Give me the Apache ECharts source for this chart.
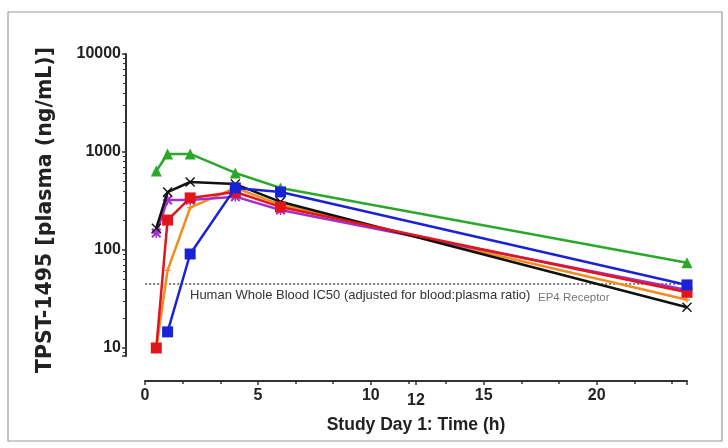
<!DOCTYPE html>
<html>
<head>
<meta charset="utf-8">
<script src="https://cdn.jsdelivr.net/npm/echarts@6/dist/echarts.min.js"></script>
<style>
html,body{margin:0;padding:0;background:#fff;}
#chart{width:728px;height:448px;}
</style>
</head>
<body>
<div id="chart"></div>
<script>
// Time points (h)
const times = [0.5, 1, 2, 4, 6, 24];
// Series values (ng/mL)
const greenVals  = [640, 955, 955, 611, 430, 74];
const blackVals  = [167, 390, 494, 470, 310, 26];
const purpleVals = [149, 324, 324, 350, 256, 39];
const orangeVals = [10, 62, 270, 430, 290, 31];
const redVals    = [10, 202, 340, 390, 275, 37];
const blueVals   = [null, 14.6, 91, 430, 391, 44];
// Reference threshold (Human Whole Blood IC50)
const ic50 = 45;
const ic50Span = [-0.7, 24.1];
// Axis tick labels
const xLabels = [0, 5, 10, 15, 20];
const xExtraLabel = 12;
const yLabels = [10, 100, 1000, 10000];

const pts = v => times.map((t, i) => [t, v[i]]).filter(p => p[1] != null);

const X_PATH = 'path://M0,1L1,0L5,4L9,0L10,1L6,5L10,9L9,10L5,6L1,10L0,9L4,5Z';
const STAR_PATH = 'path://M0,1.5L1.5,0L5,3.5L8.5,0L10,1.5L6.5,5L10,8.5L8.5,10L5,6.5L1.5,10L0,8.5L3.5,5Z M4.3,0H5.7V10H4.3Z M0,4.3H10V5.7H0Z';
const PLUS_PATH = 'path://M4,0H6V4H10V6H6V10H4V6H0V4H4Z';

function mk(name, data, color, symbol, size, z) {
  return {
    name, type: 'line', data: pts(data), z: z,
    lineStyle: {color, width: 2.5},
    itemStyle: {color},
    symbol, symbolSize: size, showSymbol: true,
    clip: false, animation: false
  };
}

const chart = echarts.init(document.getElementById('chart'), null, {renderer: 'canvas'});
const axisColor = '#333';
chart.setOption({
  animation: false,
  backgroundColor: '#fff',
  grid: {left: 145, right: 41, top: 54, bottom: 92, containLabel: false},
  xAxis: [{
    type: 'value', min: 0, max: 24, interval: 5, offset: 25,
    axisLine: {show: true, onZero: false, lineStyle: {color: axisColor, width: 2}},
    axisTick: {show: true, length: 4, lineStyle: {color: axisColor, width: 1.5}},
    minorTick: {show: true, splitNumber: 3, length: 3, lineStyle: {color: axisColor, width: 1.5}},
    splitLine: {show: false},
    axisLabel: {
      margin: 7, color: '#222', fontFamily: 'Liberation Sans', fontWeight: 'bold', fontSize: 16,
      showMaxLabel: false,
      formatter: v => (xLabels.indexOf(v) >= 0 ? String(v) : '')
    },
    name: 'Study Day 1: Time (h)', nameLocation: 'middle', nameGap: 35,
    nameTextStyle: {color: '#222', fontFamily: 'Liberation Sans', fontWeight: 'bold', fontSize: 17.5}
  }, {
    type: 'value', min: 0, max: 24, interval: xExtraLabel, offset: 25, position: 'bottom',
    axisLine: {show: false, onZero: false},
    axisTick: {show: true, length: 4, lineStyle: {color: axisColor, width: 1.5}},
    splitLine: {show: false},
    axisLabel: {
      margin: 12, color: '#222', fontFamily: 'Liberation Sans', fontWeight: 'bold', fontSize: 16,
      showMinLabel: false, showMaxLabel: false,
      formatter: v => (v === xExtraLabel ? String(v) : '')
    }
  }],
  yAxis: {
    type: 'log', logBase: 10, min: 8.28, max: 10000, offset: 19,
    axisLine: {show: true, onZero: false, lineStyle: {color: axisColor, width: 2}},
    axisTick: {show: true, length: 4, lineStyle: {color: axisColor, width: 1.5}},
    minorTick: {show: true, splitNumber: 9, length: 3, lineStyle: {color: axisColor, width: 1}},
    splitLine: {show: false},
    axisLabel: {
      margin: 5, color: '#222', fontFamily: 'Liberation Sans', fontWeight: 'bold', fontSize: 16,
      formatter: v => (yLabels.some(l => Math.abs(l - v) < 1e-6 * l) ? String(Math.round(v)) : '')
    },
    name: 'TPST-1495 [plasma (ng/mL)]', nameLocation: 'middle', nameGap: 70,
    nameTextStyle: {color: '#222', fontFamily: 'DejaVu Sans', fontWeight: 'bold', fontSize: 20.5, padding: [0, 10, 0, 0]}
  },
  graphic: [
    {type: 'rect', shape: {x: 8, y: 12, width: 714, height: 429}, style: {fill: 'none', stroke: '#9a9a9a', lineWidth: 1.2}, z: -1},
    {type: 'text', left: 190, top: 289, style: {text: 'Human Whole Blood IC50 (adjusted for blood:plasma ratio)', fill: '#333', font: '13px "Liberation Sans"'}},
    {type: 'text', left: 538, top: 292, style: {text: 'EP4 Receptor', fill: '#777', font: '11.5px "Liberation Sans"'}}
  ],
  series: [
    {
      name: 'IC50', type: 'line', data: ic50Span.map(x => [x, ic50]), symbol: 'none', clip: false,
      lineStyle: {color: '#555', width: 1.5, type: [2, 2]}, z: 1, silent: true
    },
    mk('orange', orangeVals, '#f28c1e', PLUS_PATH, 6, 2),
    mk('purple', purpleVals, '#a030d0', STAR_PATH, 10, 3),
    mk('black', blackVals, '#111111', X_PATH, 10, 4),
    mk('green', greenVals, '#2aa82a', 'triangle', 11, 5),
    mk('red', redVals, '#e3141c', 'rect', 11, 6),
    mk('blue', blueVals, '#1a22d8', 'rect', 11, 7)
  ]
});
</script>
</body>
</html>
